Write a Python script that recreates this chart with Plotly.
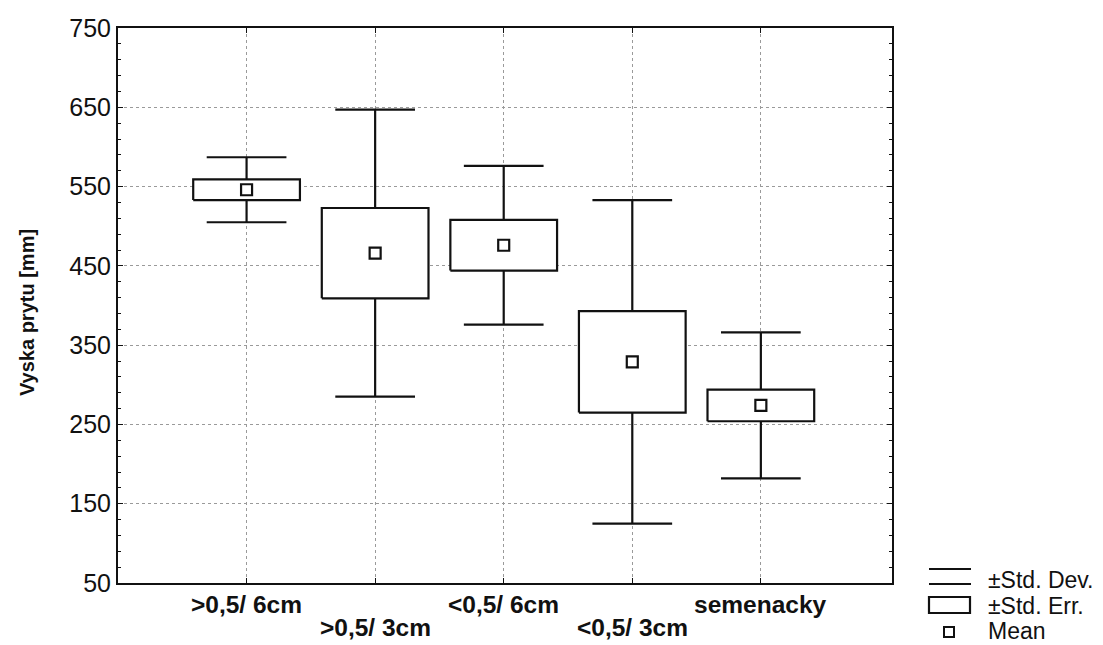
import plotly.graph_objects as go

# ---- data ----
categories = [">0,5/ 6cm", ">0,5/ 3cm", "<0,5/ 6cm", "<0,5/ 3cm", "semenacky"]
means = [546, 466, 476, 329, 274]
std_err = [13, 57, 32, 64, 20]
std_dev = [41, 181, 100, 204, 92]
y_ticks = [50, 150, 250, 350, 450, 550, 650, 750]

positions = list(range(1, len(categories) + 1))
BOX_W = 0.83
CAP_W = 0.62
INK = "#111111"
FONT = "Liberation Sans, Arial, sans-serif"

W, H = 1103, 645
L, T = 118, 28
PR, PB = 892, 583       # plot right / bottom edge in px
R, B = W - PR, H - PB
PW, PH = PR - L, PB - T


def px_x(px):
    return (px - L) / PW


def px_y(py):
    return (PB - py) / PH


def esc(s):
    return s.replace("&", "&amp;").replace("<", "&lt;").replace(">", "&gt;")


# whiskers (±SD)
wx, wy = [], []
for x, m, s in zip(positions, means, std_dev):
    wx += [x, x, None]
    wy += [m - s, m + s, None]
    for v in (m - s, m + s):
        wx += [x - CAP_W / 2, x + CAP_W / 2, None]
        wy += [v, v, None]

# boxes (±SE)
bx, by = [], []
for x, m, s in zip(positions, means, std_err):
    x0, x1 = x - BOX_W / 2, x + BOX_W / 2
    bx += [x0, x1, x1, x0, x0, None]
    by += [m - s, m - s, m + s, m + s, m - s, None]

fig = go.Figure()
fig.add_trace(go.Scatter(x=wx, y=wy, mode="lines",
                         line=dict(color=INK, width=2.2),
                         showlegend=False, hoverinfo="skip"))
fig.add_trace(go.Scatter(x=bx, y=by, mode="lines", fill="toself",
                         fillcolor="white", line=dict(color=INK, width=2.2),
                         showlegend=False, hoverinfo="skip"))
fig.add_trace(go.Scatter(x=positions, y=means, mode="markers",
                         marker=dict(symbol="square-open", size=11,
                                     color=INK, line=dict(width=2.2, color=INK)),
                         showlegend=False))

# x category labels (staggered)
for i, (x, c) in enumerate(zip(positions, categories)):
    fig.add_annotation(x=x, xref="x", y=px_y(604 if i % 2 == 0 else 627),
                       yref="paper", text="<b>" + esc(c) + "</b>",
                       showarrow=False, xanchor="center", yanchor="middle",
                       font=dict(family=FONT, size=24.5, color=INK))

# y-axis title
fig.add_annotation(x=px_x(27), y=px_y(313), xref="paper", yref="paper",
                   text="<b>Vyska prytu [mm]</b>", textangle=-90,
                   showarrow=False, xanchor="center", yanchor="middle",
                   font=dict(family=FONT, size=20, color=INK))

# custom legend
shapes = []
for py in (569, 584):
    shapes.append(dict(type="line", xref="paper", yref="paper",
                       x0=px_x(929), x1=px_x(971), y0=px_y(py), y1=px_y(py),
                       line=dict(color=INK, width=2.2)))
shapes.append(dict(type="rect", xref="paper", yref="paper",
                   x0=px_x(929), x1=px_x(970), y0=px_y(613), y1=px_y(597),
                   line=dict(color=INK, width=2.2), fillcolor="white"))
shapes.append(dict(type="rect", xref="paper", yref="paper",
                   x0=px_x(944), x1=px_x(954), y0=px_y(637), y1=px_y(627),
                   line=dict(color=INK, width=2), fillcolor="white"))
legend_items = [("±Std. Dev.", 580), ("±Std. Err.", 606), ("Mean", 631)]
for txt, py in legend_items:
    fig.add_annotation(x=px_x(986), y=px_y(py), xref="paper", yref="paper",
                       text=txt, showarrow=False, xanchor="left",
                       yanchor="middle",
                       font=dict(family=FONT, size=23, color=INK))

fig.update_layout(
    width=W, height=H,
    margin=dict(l=L, r=R, t=T, b=B),
    paper_bgcolor="white", plot_bgcolor="white",
    shapes=shapes, showlegend=False,
    font=dict(family=FONT, size=25, color=INK),
)
fig.update_xaxes(range=[0, 6.02], tickvals=positions, showticklabels=False,
                 showgrid=True, gridcolor="#9a9a9a", griddash="dot", gridwidth=1,
                 showline=True, linecolor=INK, linewidth=2, mirror="ticks",
                 ticks="inside", ticklen=5, tickcolor=INK, zeroline=False)
fig.update_yaxes(range=[50, 750], tickvals=y_ticks,
                 ticktext=[str(v) for v in y_ticks],
                 showgrid=True, gridcolor="#9a9a9a", griddash="dot", gridwidth=1,
                 showline=True, linecolor=INK, linewidth=2, mirror="ticks",
                 ticks="inside", ticklen=5, tickcolor=INK, zeroline=False,
                 ticklabelstandoff=0,
                 tickfont=dict(family=FONT, size=25, color=INK),
                 minor=dict(dtick=20, tick0=50, ticks="inside", ticklen=3,
                            tickcolor=INK, showgrid=False))

fig.write_html("out.html",
               config={"displayModeBar": False},
               post_script="document.body.style.margin='0';"
                           "document.body.style.overflow='hidden';")
